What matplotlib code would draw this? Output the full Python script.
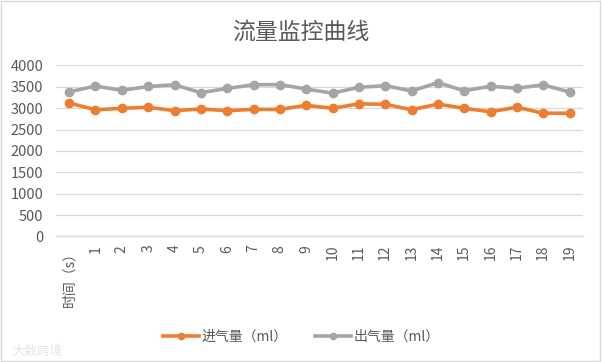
import matplotlib
matplotlib.use("Agg")
import matplotlib.pyplot as plt
from matplotlib.patches import Rectangle

plt.rcParams['font.family'] = ['Noto Sans CJK SC', 'DejaVu Sans']

# x categories and the two series (ml)
categories = ['时间（s）'] + [str(i) for i in range(1, 20)]
inflow = [3120, 2960, 2995, 3020, 2940, 2980, 2940, 2970, 2970, 3065,
          2995, 3100, 3090, 2960, 3095, 2995, 2915, 3020, 2880, 2880]
outflow = [3380, 3515, 3415, 3505, 3545, 3360, 3460, 3545, 3550, 3445,
           3350, 3485, 3525, 3400, 3595, 3405, 3510, 3465, 3545, 3375]
yticks = [0, 500, 1000, 1500, 2000, 2500, 3000, 3500, 4000]

text_color = '#595959'
grid_color = '#D9D9D9'

fig = plt.figure(figsize=(6.02, 3.62), dpi=100)
ax = fig.add_axes([0.093, 0.3467, 0.875, 0.4729])

x = list(range(len(categories)))
ax.plot(x, inflow, color='#ED7D31', lw=2.6, marker='o', ms=6, label='进气量（ml）')
ax.plot(x, outflow, color='#A5A5A5', lw=2.6, marker='o', ms=6, label='出气量（ml）')

ax.set_xlim(-0.5, len(categories) - 0.5)
ax.set_ylim(0, 4000)
ax.set_yticks(yticks)
ax.set_xticks(x)
ax.set_xticklabels(categories, rotation=90, va='top', ha='center')
ax.tick_params(axis='both', length=0, labelsize=10.5, labelcolor=text_color)
ax.tick_params(axis='x', pad=6, labelsize=10)
ax.tick_params(axis='y', pad=9)
ax.grid(axis='y', color=grid_color, lw=0.9)
ax.set_axisbelow(True)
for s in ['top', 'right', 'left']:
    ax.spines[s].set_visible(False)
ax.spines['bottom'].set_color(grid_color)
ax.spines['bottom'].set_linewidth(0.9)

fig.text(0.5, 0.91, '流量监控曲线', ha='center', va='center', fontsize=16.5, color=text_color)

fig.legend(loc='center', bbox_to_anchor=(0.5, 0.07), ncol=2, frameon=False,
           fontsize=10, labelcolor=text_color, handlelength=2.6, columnspacing=2.0,
           handletextpad=0.15, markerscale=0.75)

# faint watermark
fig.text(0.02, 0.03, '大数跨境', fontsize=9, color='#E4E4E4', ha='left', va='center')

# chart border
fig.patches.append(Rectangle((0.002, 0.003), 0.995, 0.993, transform=fig.transFigure,
                             fill=False, edgecolor=grid_color, lw=1))

fig.savefig('out.png', dpi=100)
